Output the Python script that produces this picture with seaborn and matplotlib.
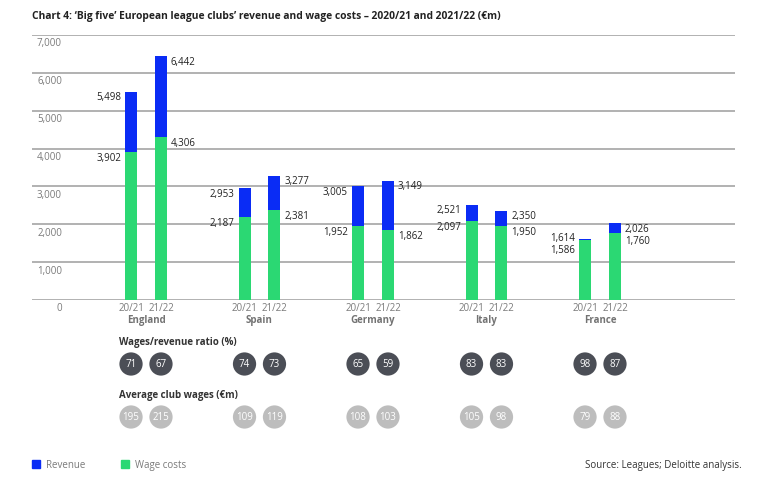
import numpy as np
import pandas as pd
import matplotlib
matplotlib.use('Agg')
import matplotlib.pyplot as plt
from matplotlib.patches import Patch
import seaborn as sns

# chart data (€m)
countries = ['England', 'Spain', 'Germany', 'Italy', 'France']
seasons = ['20/21', '21/22']
revenue_2021 = [5498, 2953, 3005, 2521, 1614]
revenue_2122 = [6442, 3277, 3149, 2350, 2026]
wages_2021 = [3902, 2187, 1952, 2097, 1586]
wages_2122 = [4306, 2381, 1862, 1950, 1760]
ratio_2021 = [71, 74, 65, 83, 98]
ratio_2122 = [67, 73, 59, 83, 87]
avg_wages_2021 = [195, 109, 108, 105, 79]
avg_wages_2122 = [215, 119, 103, 98, 88]
y_ticks = [0, 1000, 2000, 3000, 4000, 5000, 6000, 7000]

BLUE = '#0a2cf5'
GREEN = '#2bd873'
GRID = '#9c9c9c'
GREY_TXT = '#7a7a7a'
DARK_TXT = '#222222'

df = pd.DataFrame({
    'country': countries * 2,
    'season': [seasons[0]] * 5 + [seasons[1]] * 5,
    'revenue': revenue_2021 + revenue_2122,
    'wages': wages_2021 + wages_2122,
    'ratio': ratio_2021 + ratio_2122,
    'avg_wages': avg_wages_2021 + avg_wages_2122,
})

sns.set_theme(style='white')
plt.rcParams['font.family'] = ['Open Sans', 'DejaVu Sans']

W, H = 766, 489
fig = plt.figure(figsize=(W / 100, H / 100), dpi=100)

ax_l, ax_r, ax_t, ax_b = 32, 735, 36, 301
ax = fig.add_axes([ax_l / W, 1 - ax_b / H, (ax_r - ax_l) / W, (ax_b - ax_t) / H])

bar_w = 0.528
gap = 0.6
off = bar_w / 4
half = bar_w / 2 * (1 - gap) / 2

sns.barplot(data=df, x='country', y='revenue', hue='season', order=countries,
            hue_order=seasons, palette={s: BLUE for s in seasons}, width=bar_w,
            gap=gap, saturation=1, errorbar=None, legend=False, ax=ax, zorder=2,
            linewidth=0)
sns.barplot(data=df, x='country', y='wages', hue='season', order=countries,
            hue_order=seasons, palette={s: GREEN for s in seasons}, width=bar_w,
            gap=gap, saturation=1, errorbar=None, legend=False, ax=ax, zorder=3,
            linewidth=0)

unit = 113.5  # px per category
ax.set_xlim(-(146 - ax_l) / unit, (ax_r - 146) / unit)
ax.set_ylim(0, 7000)
for s in ax.spines.values():
    s.set_visible(False)
ax.set_yticks(y_ticks)
ax.set_yticklabels([])
ax.yaxis.grid(True, color=GRID, lw=1.1)
ax.set_axisbelow(True)
ax.tick_params(axis='both', length=0)
ax.set_xlabel('')
ax.set_ylabel('')

ylab_tr = matplotlib.transforms.blended_transform_factory(ax.transAxes, ax.transData)
for v in y_ticks:
    ax.annotate(f'{v:,}', xy=((62 - ax_l) / (ax_r - ax_l), v), xycoords=ylab_tr,
                xytext=(0, -8), textcoords='offset pixels', ha='right', va='center',
                fontsize=7, color=GREY_TXT)

positions = []
for i, c in enumerate(countries):
    for j, s in enumerate(seasons):
        positions.append(i + (-off if j == 0 else off))
ax.set_xticks(positions)
ax.set_xticklabels(seasons * 5, fontsize=7, color=GREY_TXT)
ax.tick_params(axis='x', pad=1.5)

for i, c in enumerate(countries):
    ax.annotate(c, xy=(i, 0), xytext=(0, -20), textcoords='offset pixels',
                ha='center', va='center', fontsize=7, fontweight='bold', color='#737373')

# value labels
for j, s in enumerate(seasons):
    sub = df[df['season'] == s]
    for i, (rev, wag) in enumerate(zip(sub['revenue'], sub['wages'])):
        if rev - wag < 100:
            y_rev = rev + 50
        else:
            y_rev = rev - 130
        y_wag = min(wag - 150, y_rev - 320)
        if j == 0:
            x, dx, ha = i - off - half, -4, 'right'
        else:
            x, dx, ha = i + off + half, 4, 'left'
        for val, yy in ((rev, y_rev), (wag, y_wag)):
            ax.annotate(f'{val:,}', xy=(x, yy), xytext=(dx, 0), textcoords='offset pixels',
                        ha=ha, va='center', fontsize=7, color=DARK_TXT)

# circles section
lo_t, lo_b = 330, 445
ax2 = fig.add_axes([ax_l / W, 1 - lo_b / H, (ax_r - ax_l) / W, (lo_b - lo_t) / H])
ax2.set_xlim(ax.get_xlim())
ax2.set_ylim(lo_b, lo_t)
ax2.axis('off')

head_x = (119 - 146) / unit
ax2.text(head_x, 343, 'Wages/revenue ratio (%)', ha='left', va='center', fontsize=7,
         fontweight='bold', color='#333333')
ax2.text(head_x, 396, 'Average club wages (€m)', ha='left', va='center', fontsize=7,
         fontweight='bold', color='#333333')

ratios = [r for pair in zip(ratio_2021, ratio_2122) for r in pair]
avgs = [a for pair in zip(avg_wages_2021, avg_wages_2122) for a in pair]
sns.scatterplot(x=positions, y=[365] * len(positions), s=280, color='#4b4e56',
                edgecolor='none', legend=False, ax=ax2)
sns.scatterplot(x=positions, y=[418] * len(positions), s=280, color='#bdbdbd',
                edgecolor='none', legend=False, ax=ax2)
for x, r, a in zip(positions, ratios, avgs):
    ax2.text(x, 365, str(r), ha='center', va='center', fontsize=7, color='white')
    ax2.text(x, 418, str(a), ha='center', va='center', fontsize=7, color='white')

# title
fig.text(32 / W, 1 - 17 / H, "Chart 4: \u2018Big five\u2019 European league clubs\u2019 revenue and wage costs \u2013 2020/21 and 2021/22 (€m)",
         ha='left', va='center', fontsize=7.4, fontweight='bold', color=DARK_TXT)

# legend
handles = [Patch(color=BLUE, label='Revenue'), Patch(color=GREEN, label='Wage costs')]
leg = fig.legend(handles=handles, loc='center left', bbox_to_anchor=(28 / W, 1 - 466 / H),
                 ncol=2, frameon=False, fontsize=7, handlelength=0.8, handleheight=0.8,
                 handletextpad=0.7, columnspacing=3.6, borderaxespad=0)
for t in leg.get_texts():
    t.set_color(GREY_TXT)

fig.text(742 / W, 1 - 466 / H, 'Source: Leagues; Deloitte analysis.', ha='right', va='center',
         fontsize=7, color='#333333')

fig.savefig('out.png', dpi=100)
